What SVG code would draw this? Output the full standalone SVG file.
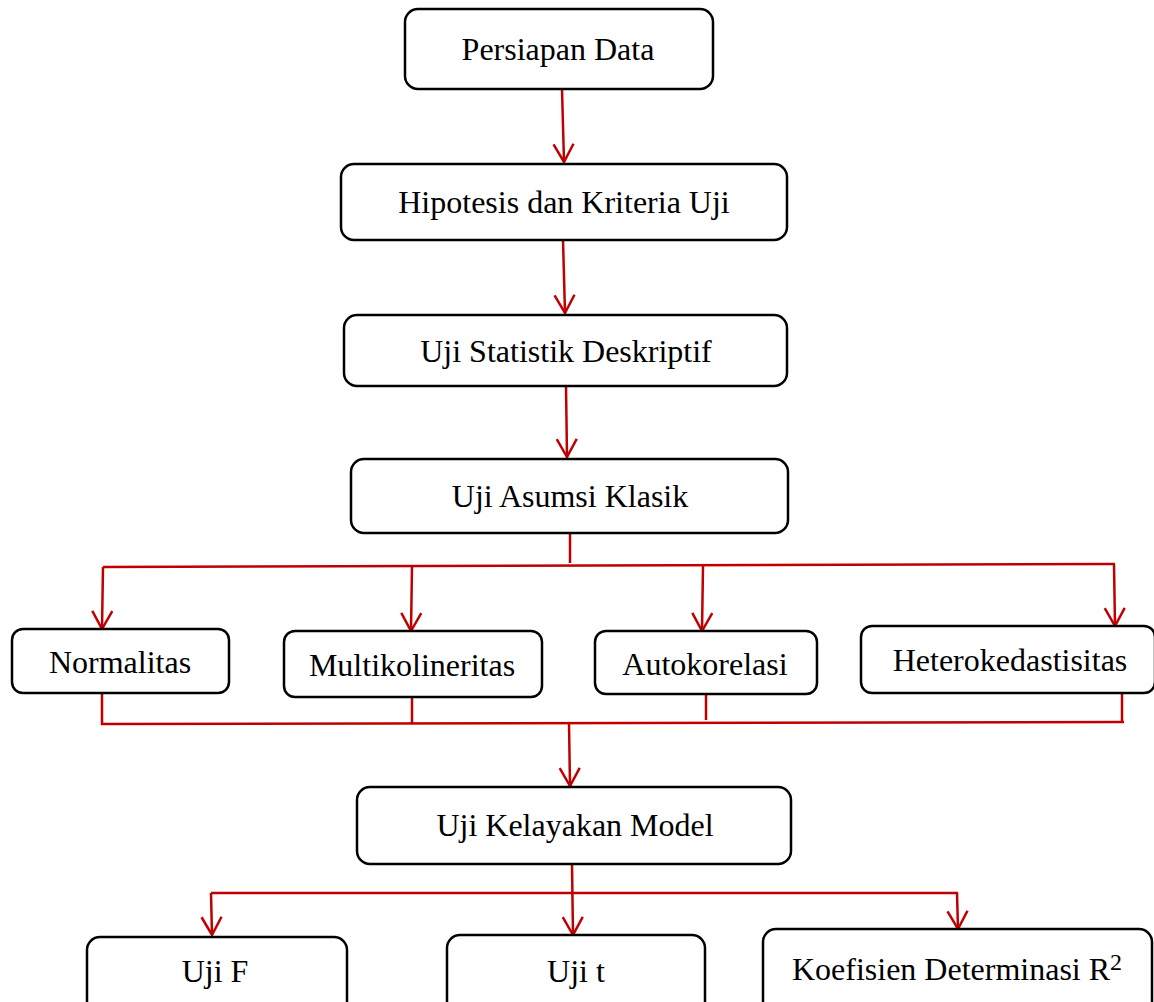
<svg xmlns="http://www.w3.org/2000/svg" width="1154" height="1002" viewBox="0 0 1154 1002">
<style>
.box{fill:#fff;stroke:#000;stroke-width:2.5}
.lbl{font-family:"Liberation Serif","Times New Roman",serif;font-size:32px;fill:#000;text-anchor:middle}
.con{fill:none;stroke:#C00000;stroke-width:2.5}
.arr{marker-end:url(#ah)}
</style>
<defs>
<marker id="ah" markerUnits="userSpaceOnUse" viewBox="-20 -12 24 24" refX="0" refY="0" markerWidth="24" markerHeight="24" orient="auto">
<path d="M-18,-10 L0,0 L-18,10" fill="none" stroke="#C00000" stroke-width="2.5"/>
</marker>
</defs>
<rect width="1154" height="1002" fill="#fff"/>
<g id="connectors">
<path class="con arr" d="M562,89 L564,162"/>
<path class="con arr" d="M563,240 L565,313"/>
<path class="con arr" d="M566,386 L567,457"/>
<path class="con" d="M570,533 L570,563"/>
<path class="con" d="M103,567 L1115,564"/>
<path class="con arr" d="M103,567 L102,629"/>
<path class="con arr" d="M412,566 L411,631"/>
<path class="con arr" d="M703,566 L702,631"/>
<path class="con arr" d="M1114,564 L1115,626"/>
<path class="con" d="M102,693 L102,724 L1124,722"/>
<path class="con" d="M412,697 L412,723"/>
<path class="con" d="M706,694 L706,720"/>
<path class="con" d="M1122,693 L1122,722"/>
<path class="con arr" d="M569,723 L570,786"/>
<path class="con arr" d="M572,864 L573,935"/>
<path class="con" d="M211,893 L958,893"/>
<path class="con arr" d="M211,893 L212,935"/>
<path class="con arr" d="M957,893 L958,929"/>
</g>
<g id="n1"><rect class="box" x="405" y="9" width="308" height="80" rx="13"/><text class="lbl" x="558" y="60">Persiapan Data</text></g>
<g id="n2"><rect class="box" x="341" y="164" width="446" height="76" rx="13"/><text class="lbl" x="564" y="213">Hipotesis dan Kriteria Uji</text></g>
<g id="n3"><rect class="box" x="344" y="315" width="443" height="71" rx="13"/><text class="lbl" x="566" y="362">Uji Statistik Deskriptif</text></g>
<g id="n4"><rect class="box" x="351" y="459" width="437" height="74" rx="13"/><text class="lbl" x="570" y="507">Uji Asumsi Klasik</text></g>
<g id="n5"><rect class="box" x="12" y="629" width="217" height="64" rx="11"/><text class="lbl" x="120" y="673">Normalitas</text></g>
<g id="n6"><rect class="box" x="284" y="631" width="258" height="66" rx="11"/><text class="lbl" x="412" y="676">Multikolineritas</text></g>
<g id="n7"><rect class="box" x="595" y="631" width="222" height="63" rx="11"/><text class="lbl" x="705" y="675">Autokorelasi</text></g>
<g id="n8"><rect class="box" x="861" y="626" width="294" height="67" rx="11"/><text class="lbl" x="1010" y="671">Heterokedastisitas</text></g>
<g id="n9"><rect class="box" x="357" y="787" width="434" height="77" rx="13"/><text class="lbl" x="575" y="836">Uji Kelayakan Model</text></g>
<g id="n10"><rect class="box" x="87" y="937" width="260" height="80" rx="13"/><text class="lbl" x="215" y="982">Uji F</text></g>
<g id="n11"><rect class="box" x="447" y="935" width="258" height="80" rx="13"/><text class="lbl" x="576" y="982">Uji t</text></g>
<g id="n12"><rect class="box" x="763" y="929" width="389" height="88" rx="13"/><text class="lbl" x="957" y="980">Koefisien Determinasi R<tspan dy="-10" font-size="24">2</tspan></text></g>
</svg>
